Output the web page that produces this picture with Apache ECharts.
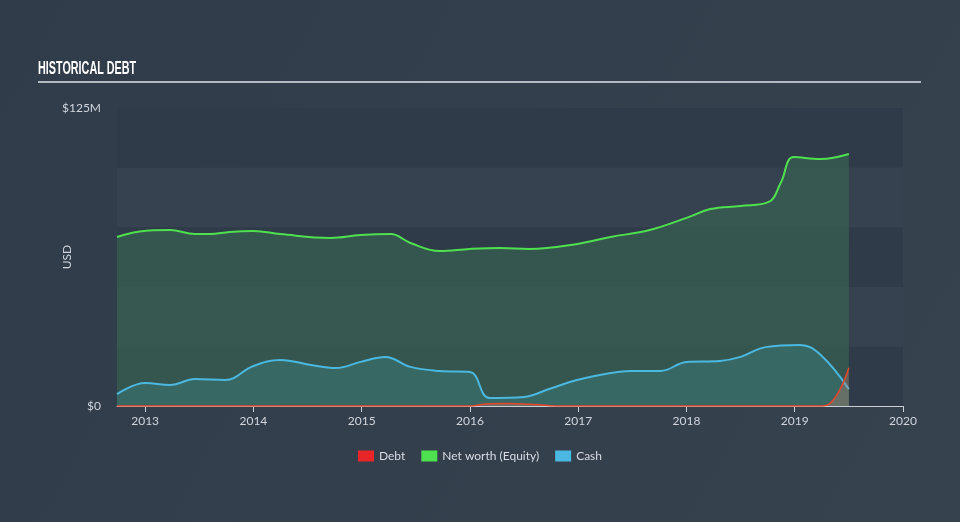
<!DOCTYPE html>
<html><head><meta charset="utf-8">
<script src="https://cdn.jsdelivr.net/npm/echarts@6/dist/echarts.min.js"></script>
<style>html,body{margin:0;padding:0;background:#343f4e;}#c{width:960px;height:522px;}</style>
</head><body><div id="c"></div>
<script>
// time in fractional years
const equityT = [2012.74,2012.95,2013.23,2013.46,2013.6,2013.78,2014.0,2014.25,2014.71,2014.99,2015.27,2015.45,2015.72,2016.0,2016.28,2016.55,2016.99,2017.3,2017.66,2018.0,2018.22,2018.5,2018.76,2018.87,2018.99,2019.24,2019.5];
const equityV = [70.9,73.2,73.8,72.1,72.1,73.0,73.4,72.1,70.5,71.7,72.1,68.4,65.0,65.9,66.3,65.9,68.0,70.9,73.8,78.9,82.6,83.9,85.6,93.5,104.4,103.6,105.7];
const cashT = [2012.74,2013.0,2013.23,2013.46,2013.74,2014.0,2014.25,2014.53,2014.76,2014.99,2015.22,2015.45,2015.72,2016.0,2016.18,2016.5,2016.73,2016.99,2017.3,2017.48,2017.76,2018.0,2018.31,2018.5,2018.73,2019.05,2019.24,2019.5];
const cashV = [5.0,9.6,8.8,11.3,10.9,16.8,19.3,17.2,15.9,18.5,20.6,16.4,14.7,14.3,3.4,3.8,7.1,10.9,13.8,14.7,14.7,18.5,18.9,20.6,24.7,25.6,21.4,7.1];
const debtT = [2012.74,2016.0,2016.15,2016.35,2016.6,2016.8,2019.26,2019.38,2019.5];
const debtV = [0,0,0.8,1.0,0.6,0,0,4,16];
const yearTicks = [2013,2014,2015,2016,2017,2018,2019,2020];

const toPairs = (t,v)=>t.map((x,i)=>[x,v[i]]);
const chart = echarts.init(document.getElementById('c'));
chart.setOption({
  backgroundColor: new echarts.graphic.LinearGradient(0,0,1,1,[{offset:0,color:'#313c4a'},{offset:1,color:'#37424f'}]),
  animation:false,
  graphic:[
    {type:'text',left:38,top:60,scaleX:0.6,style:{text:'HISTORICAL DEBT',fill:'#ffffff',font:'bold 18px "Liberation Sans"'}},
    {type:'line',shape:{x1:38,y1:82,x2:921,y2:82},style:{stroke:'#b4bac2',lineWidth:2}}
  ],
  legend:{bottom:55,left:'center',itemWidth:16,itemHeight:11,itemGap:16,icon:'rect',
    textStyle:{color:'#d8dde3',fontSize:12,fontFamily:'Lato'},
    data:['Debt','Net worth (Equity)','Cash']},
  grid:{left:117,right:57,top:108,bottom:116},
  xAxis:{type:'value',min:2012.74,max:2020,
    axisLine:{lineStyle:{color:'#c9ced6',width:1}},
    axisTick:{customValues:yearTicks,length:6,lineStyle:{color:'#c9ced6'}},
    axisLabel:{customValues:yearTicks,color:'#d0d5dc',fontSize:12,fontFamily:'Lato',margin:9,formatter:v=>String(Math.round(v))},
    splitLine:{show:false}},
  yAxis:{type:'value',min:0,max:125,interval:25,name:'USD',nameLocation:'middle',nameGap:44,nameMoveOverlap:false,
    nameTextStyle:{color:'#d0d5dc',fontSize:12,fontFamily:'Lato'},
    axisLine:{show:false},axisTick:{show:false},
    axisLabel:{color:'#d0d5dc',fontSize:12,fontFamily:'Lato',margin:16,formatter:v=>v===0?'$0':(v===125?'$125M':'')},
    splitLine:{show:false},
    splitArea:{show:true,areaStyle:{color:['#2f3b49','#36424f']}}},
  series:[
    {name:'Debt',type:'line',smooth:0.4,symbol:'none',data:toPairs(debtT,debtV),
      lineStyle:{color:'#e8452a',width:1.5},itemStyle:{color:'#e8262a'},
      areaStyle:{color:'rgba(200,130,110,0.45)'},z:5},
    {name:'Net worth (Equity)',type:'line',smooth:0.4,symbol:'none',data:toPairs(equityT,equityV),
      lineStyle:{color:'#4ee04e',width:2},itemStyle:{color:'#4ee04e'},
      areaStyle:{color:'rgba(56,99,82,0.97)'},z:2},
    {name:'Cash',type:'line',smooth:0.4,symbol:'none',data:toPairs(cashT,cashV),
      lineStyle:{color:'#4ab8e0',width:2},itemStyle:{color:'#4ab8e0'},
      areaStyle:{color:'rgba(58,114,110,0.97)'},z:3}
  ]
});
</script></body></html>
